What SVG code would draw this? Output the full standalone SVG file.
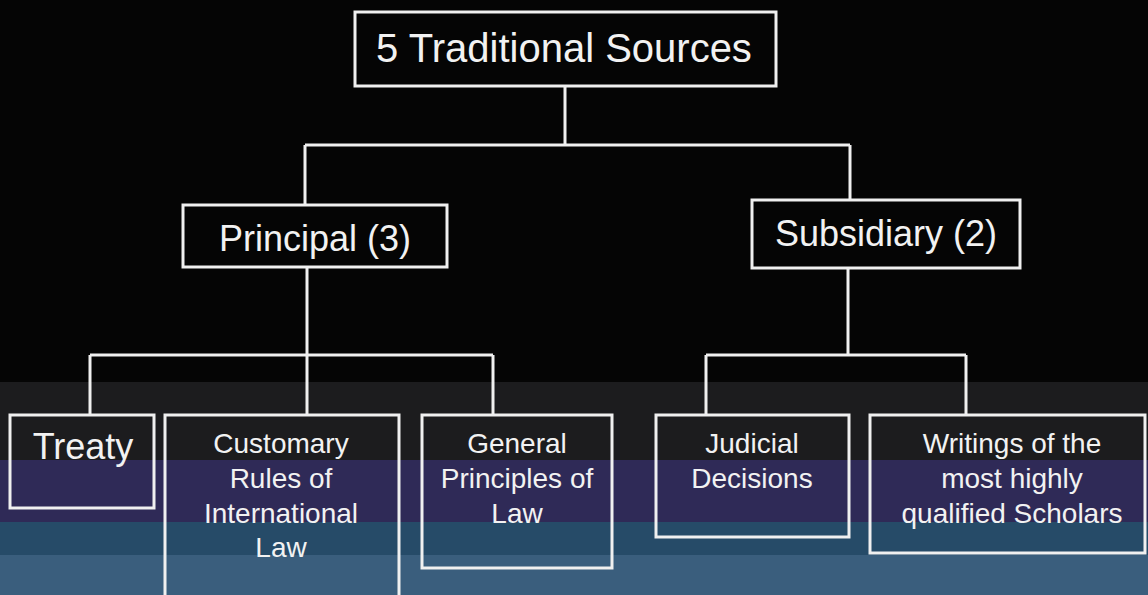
<svg xmlns="http://www.w3.org/2000/svg" width="1148" height="595" viewBox="0 0 1148 595">
<style>
.box{fill:none;stroke:#f0f0f0;stroke-width:3}
.ln{fill:none;stroke:#f0f0f0;stroke-width:3}
.t{font-family:"Liberation Sans",Arial,sans-serif;fill:#f2f2f2;text-anchor:middle}
.big{font-size:40px}
.mid{font-size:36px}
.sm{font-size:28px}
</style>
<g id="background">
<rect x="0" y="0" width="1148" height="595" fill="#050505"/>
<rect x="0" y="382" width="1148" height="78" fill="#1c1c1e"/>
<rect x="0" y="460" width="1148" height="62" fill="#2f2a57"/>
<rect x="0" y="522" width="1148" height="33" fill="#264b68"/>
<rect x="0" y="555" width="1148" height="40" fill="#3a5e7d"/>
</g>
<g id="connectors">
<path class="ln" d="M565 86V145M305 145H850M305 145V205M850 145V200"/>
<path class="ln" d="M307 267V355M90 355H493M90 355V415M307 355V415M493 355V415"/>
<path class="ln" d="M848 268V355M706 355H966M706 355V415M966 355V415"/>
</g>
<g id="root">
<rect class="box" x="355" y="12" width="421" height="74"/>
<text class="t big" x="564" y="62">5 Traditional Sources</text>
</g>
<g id="principal">
<rect class="box" x="183" y="205" width="264" height="62"/>
<text class="t mid" x="315" y="251">Principal (3)</text>
</g>
<g id="subsidiary">
<rect class="box" x="752" y="200" width="268" height="68"/>
<text class="t mid" x="886" y="246">Subsidiary (2)</text>
</g>
<g id="treaty">
<rect class="box" x="10" y="415" width="144" height="93"/>
<text class="t mid" x="83" y="459">Treaty</text>
</g>
<g id="customary">
<rect class="box" x="165" y="415" width="234" height="185"/>
<text class="t sm" x="281" y="453">Customary</text>
<text class="t sm" x="281" y="488">Rules of</text>
<text class="t sm" x="281" y="523">International</text>
<text class="t sm" x="281" y="557">Law</text>
</g>
<g id="general">
<rect class="box" x="422" y="415" width="190" height="153"/>
<text class="t sm" x="517" y="453">General</text>
<text class="t sm" x="517" y="488">Principles of</text>
<text class="t sm" x="517" y="523">Law</text>
</g>
<g id="judicial">
<rect class="box" x="656" y="415" width="193" height="122"/>
<text class="t sm" x="752" y="453">Judicial</text>
<text class="t sm" x="752" y="488">Decisions</text>
</g>
<g id="writings">
<rect class="box" x="870" y="415" width="275" height="138"/>
<text class="t sm" x="1012" y="453">Writings of the</text>
<text class="t sm" x="1012" y="488">most highly</text>
<text class="t sm" x="1012" y="523">qualified Scholars</text>
</g>
</svg>
